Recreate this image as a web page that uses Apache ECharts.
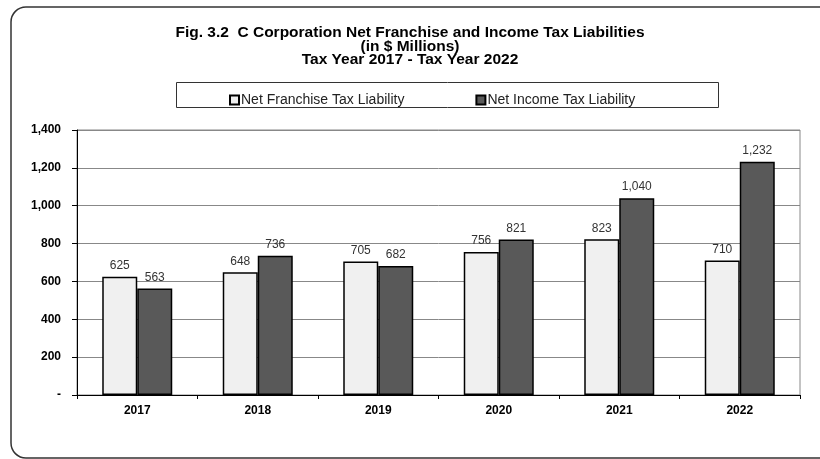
<!DOCTYPE html>
<html>
<head>
<meta charset="utf-8">
<style>
  html, body { margin: 0; padding: 0; background: #fff; }
  #chart { width: 820px; height: 459px; }
</style>
<script src="https://cdn.jsdelivr.net/npm/echarts@6/dist/echarts.min.js"></script>
</head>
<body>
<div id="chart"></div>
<script>
// Tax years on the category axis
const years = ['2017', '2018', '2019', '2020', '2021', '2022'];
// Liabilities in $ millions
const franchiseTax = [625, 648, 705, 756, 823, 710];
const incomeTax = [563, 736, 682, 821, 1040, 1232];
// Value axis ticks
const yTicks = [0, 200, 400, 600, 800, 1000, 1200, 1400];

const seriesNames = ['Net Franchise Tax Liability', 'Net Income Tax Liability'];
const titleText = 'Fig. 3.2  C Corporation Net Franchise and Income Tax Liabilities\n(in $ Millions)\nTax Year 2017 - Tax Year 2022';

const FONT = '"Liberation Sans", Arial, sans-serif';

const fmt = v => v === 0 ? '-' : v.toLocaleString('en-US');

const chart = echarts.init(document.getElementById('chart'), null, { renderer: 'canvas' });

const labelStyle = {
  show: true,
  position: 'top',
  distance: 5,
  color: '#333',
  fontFamily: FONT,
  fontSize: 12,
  formatter: p => fmt(p.value)
};

chart.setOption({
  animation: false,
  backgroundColor: '#fff',
  title: {
    text: titleText,
    left: 'center',
    top: 21,
    textStyle: {
      fontFamily: FONT,
      fontWeight: 'bold',
      fontSize: 15.5,
      lineHeight: 13.5,
      color: '#000'
    }
  },
  graphic: [
    {
      type: 'rect',
      silent: true,
      shape: { x: 11, y: 7, width: 830, height: 451, r: 15 },
      style: { fill: 'none', stroke: '#333', lineWidth: 1.5 }
    },
    {
      type: 'rect',
      silent: true,
      shape: { x: 176.5, y: 82.5, width: 542, height: 25 },
      style: { fill: 'none', stroke: '#333', lineWidth: 1 }
    }
  ],
  legend: {
    data: seriesNames,
    left: 224,
    top: 88,
    itemGap: 71,
    itemWidth: 9,
    itemHeight: 9,
    icon: 'rect',
    textStyle: { fontFamily: FONT, fontSize: 14, color: '#222', padding: [0, 0, 0, -3] }
  },
  grid: {
    left: 77,
    right: 20,
    top: 130,
    bottom: 64,
    show: true,
    borderColor: '#888',
    borderWidth: 1
  },
  xAxis: {
    type: 'category',
    data: years,
    axisLine: { lineStyle: { color: '#000', width: 1 } },
    axisTick: { show: true, length: 4, inside: false, alignWithLabel: false, lineStyle: { color: '#000' } },
    axisLabel: {
      color: '#000',
      fontFamily: FONT,
      fontWeight: 'bold',
      fontSize: 12,
      margin: 10
    }
  },
  yAxis: {
    type: 'value',
    min: yTicks[0],
    max: yTicks[yTicks.length - 1],
    interval: yTicks[1] - yTicks[0],
    axisLine: { show: true, lineStyle: { color: '#000', width: 1 } },
    axisTick: { show: true, length: 5, lineStyle: { color: '#000' } },
    splitLine: { show: true, lineStyle: { color: '#888', width: 1 } },
    axisLabel: {
      color: '#000',
      fontFamily: FONT,
      fontWeight: 'bold',
      fontSize: 12,
      margin: 16,
      formatter: v => fmt(v)
    }
  },
  series: [
    {
      name: seriesNames[0],
      type: 'bar',
      data: franchiseTax,
      barWidth: 35,
      barGap: '0%',
      itemStyle: { color: '#f0f0f0', borderColor: '#000', borderWidth: 1.5 },
      label: labelStyle
    },
    {
      name: seriesNames[1],
      type: 'bar',
      data: incomeTax,
      barWidth: 35,
      barGap: '0%',
      itemStyle: { color: '#595959', borderColor: '#000', borderWidth: 1.5 },
      label: labelStyle
    }
  ]
});
</script>
</body>
</html>
